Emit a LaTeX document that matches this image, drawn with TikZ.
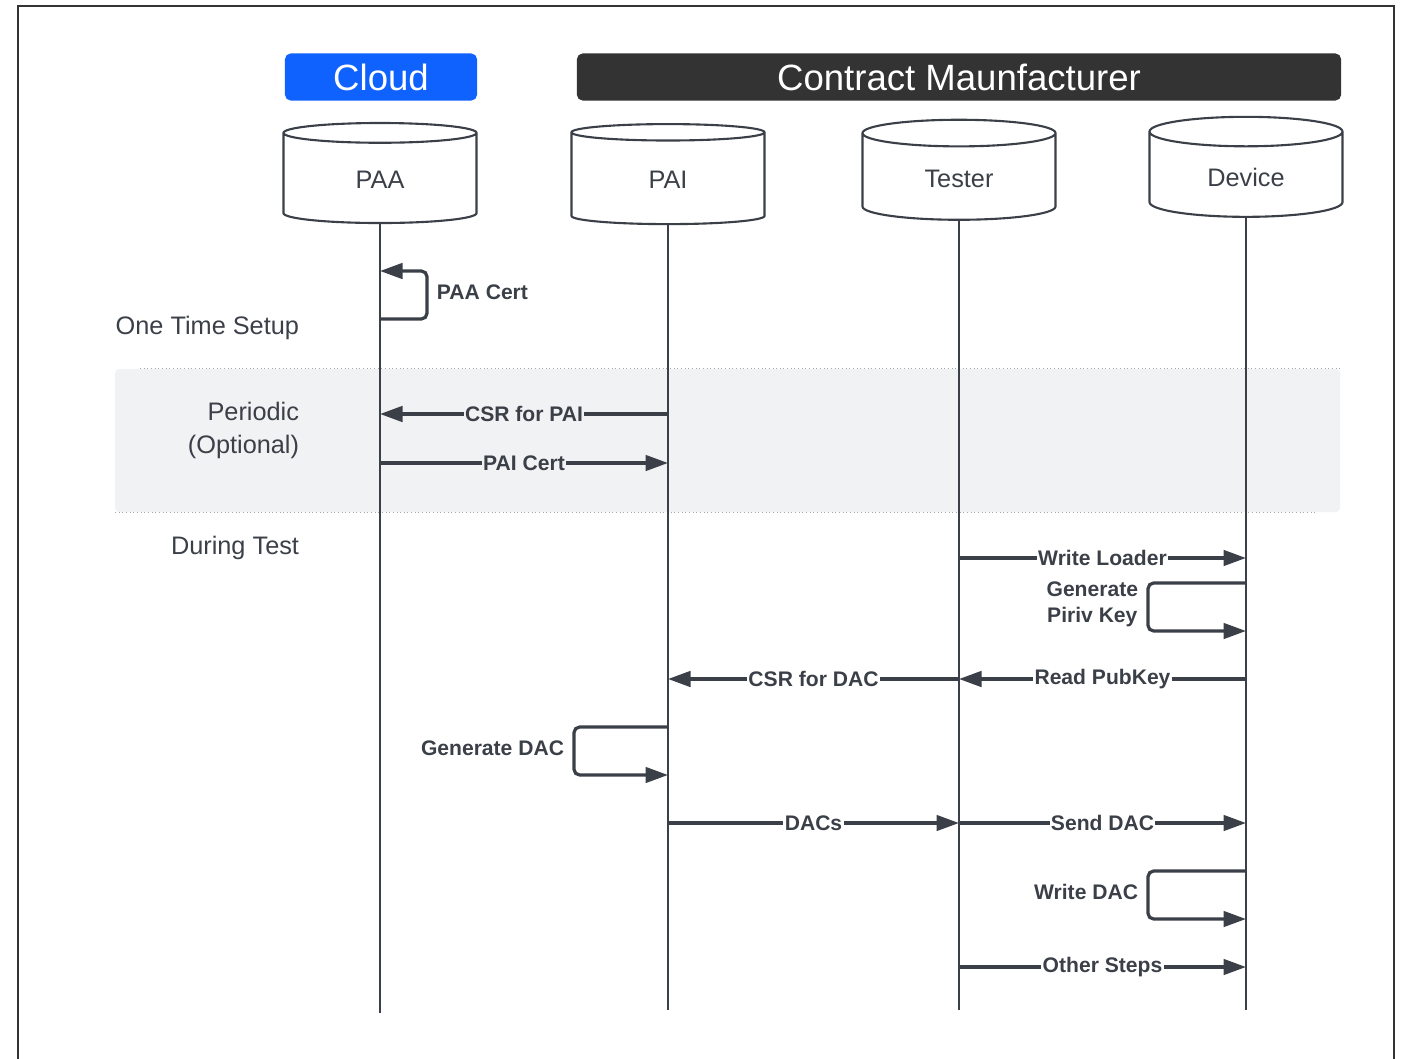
\documentclass[tikz,border=0pt]{standalone}
\usepackage{fontspec}
\setmainfont{Liberation Sans}
\usetikzlibrary{arrows.meta,shapes.geometric}
\definecolor{cloudblue}{HTML}{1062FE}
\definecolor{cmdark}{HTML}{333333}
\definecolor{inkgray}{HTML}{3B4048}
\definecolor{bandgray}{HTML}{F1F2F4}
\newcommand*{\px}{0.7113pt}

\begin{document}
\begin{tikzpicture}[x=0.025cm, y=-0.025cm, text=inkgray,
    font=\fontsize{15}{18.5}\selectfont\bfseries,
    header/.style={rounded corners=4pt, inner sep=0pt, minimum width=#1*\px, minimum height=47*\px,
        text=white, font=\fontsize{26}{30}\selectfont},
    actor/.style={cylinder, shape border rotate=90, aspect=0.34, draw=inkgray, line width=1.5pt,
        minimum width=193*\px, minimum height=100*\px, font=\fontsize{18}{20}\selectfont},
    phase/.style={align=right, anchor=east, font=\fontsize{18}{23.5}\selectfont},
    lifeline/.style={draw=inkgray, line width=2pt},
    msg/.style={draw=inkgray, line width=2.3pt, -{Triangle[length=16pt, width=11pt]}},
    lbl/.style={fill=white, inner xsep=1pt, inner ysep=2pt},
    loopnote/.style={anchor=east, align=center},
  ]
    \useasboundingbox (0,0) rectangle (1405,1058);
    \draw [draw=cmdark, line width=1.5pt] (18,1080) -- (18,6) -- (1394,6) -- (1394,1080);

    % swim lane headers
    \node [header=192, fill=cloudblue] (cloud) at (381,77) {Cloud};
    \node [header=764, fill=cmdark]    (cm)    at (959,77) {Contract Maunfacturer};

    % periodic band
    \fill [bandgray, rounded corners=3pt] (115,369) rectangle (1340,512);
    \draw [dotted, draw=gray!70, line width=0.6pt] (140,368) -- (1340,368);
    \draw [dotted, draw=gray!70, line width=0.6pt] (115,512) -- (1315,512);

    % actors
    \node [actor] (paa)    at (380,180)  {PAA};
    \node [actor] (pai)    at (668,180)  {PAI};
    \node [actor] (tester) at (959,179)  {Tester};
    \node [actor] (device) at (1246,177) {Device};

    \coordinate (paa-end)    at (380,1013);
    \coordinate (pai-end)    at (668,1010);
    \coordinate (tester-end) at (959,1010);
    \coordinate (device-end) at (1246,1010);
    \draw [lifeline] (paa.south)    -- (paa-end);
    \draw [lifeline] (pai.south)    -- (pai-end);
    \draw [lifeline] (tester.south) -- (tester-end);
    \draw [lifeline] (device.south) -- (device-end);

    % phases
    \node [phase] (setup)    at (304,328) {One Time Setup};
    \node [phase] (periodic) at (304,430) {Periodic\\(Optional)};
    \node [phase] (during)   at (304,548) {During Test};

    % one time setup
    \draw [msg, rounded corners=4pt] (paa |- 0,319) -| (427,271) -- (paa |- 0,271);
    \node [anchor=west] (paacert) at (432,292) {PAA Cert};

    % periodic
    \draw [msg] (pai |- 0,414) -- node [lbl, fill=bandgray] (csrpai) {CSR for PAI} (paa |- 0,414);
    \draw [msg] (paa |- 0,463) -- node [lbl, fill=bandgray] (paicert) {PAI Cert} (pai |- 0,463);

    % during test
    \draw [msg] (tester |- 0,558) -- node [lbl] (loader) {Write Loader} (device |- 0,558);
    \draw [msg, rounded corners=4pt] (device |- 0,583) -| (1148,631) -- (device |- 0,631);
    \node [loopnote] (privkey) at (1143,604) {Generate\\Piriv Key};
    \draw [msg] (device |- 0,679) -- node [lbl] (pubkey) {Read PubKey} (tester |- 0,679);
    \draw [msg] (tester |- 0,679) -- node [lbl] (csrdac) {CSR for DAC} (pai |- 0,679);
    \draw [msg, rounded corners=4pt] (pai |- 0,727) -| (574,775) -- (pai |- 0,775);
    \node [loopnote] (gendac) at (569,748) {Generate DAC};
    \draw [msg] (pai |- 0,823) -- node [lbl] (dacs) {DACs} (tester |- 0,823);
    \draw [msg] (tester |- 0,823) -- node [lbl] (senddac) {Send DAC} (device |- 0,823);
    \draw [msg, rounded corners=4pt] (device |- 0,871) -| (1148,919) -- (device |- 0,919);
    \node [loopnote] (writedac) at (1143,892) {Write DAC};
    \draw [msg] (tester |- 0,967) -- node [lbl] (other) {Other Steps} (device |- 0,967);
\end{tikzpicture}
\end{document}
